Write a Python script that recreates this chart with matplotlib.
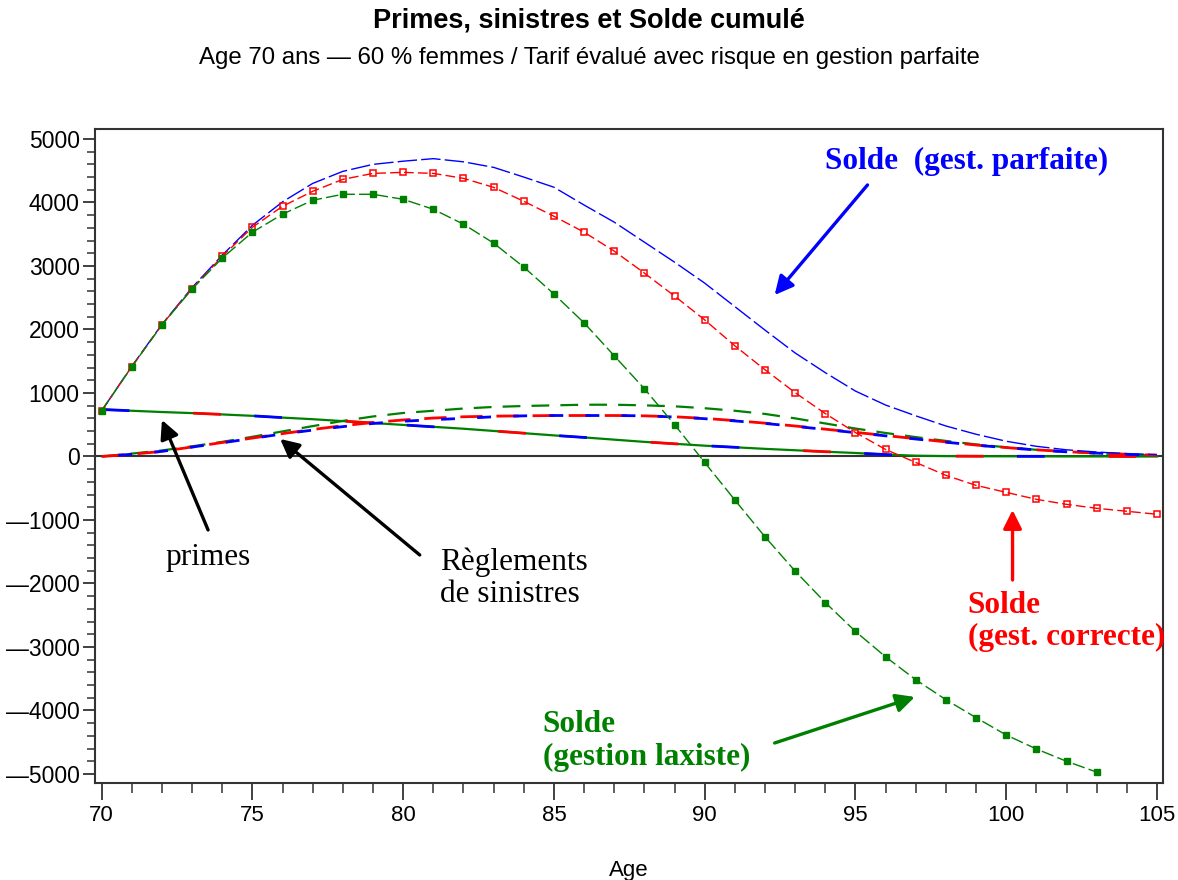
import numpy as np
import matplotlib
matplotlib.use("Agg")
import matplotlib.pyplot as plt
from matplotlib.ticker import MultipleLocator, FuncFormatter

plt.rcParams['font.family'] = ['Liberation Sans', 'DejaVu Sans']

ages = list(range(70, 106))

# solde cumulé, gestion parfaite (bleu)
solde_parfaite = [720, 1420, 2080, 2660, 3170, 3640, 4010, 4300, 4490, 4600,
                  4650, 4690, 4640, 4553, 4400, 4240, 3960, 3690, 3375, 3060,
                  2730, 2360, 1990, 1630, 1320, 1030, 810, 640, 480, 350,
                  240, 160, 105, 70, 45, 30]
# solde cumulé, gestion correcte (rouge)
solde_correcte = [720, 1415, 2075, 2645, 3150, 3610, 3940, 4176, 4364, 4458,
                  4474, 4458, 4380, 4238, 4019, 3783, 3532, 3234, 2888, 2527,
                  2151, 1743, 1366, 1005, 675, 377, 110, -94, -298, -455,
                  -565, -675, -754, -816, -863, -910]
# solde cumulé, gestion laxiste (vert) - jusqu'à 103 ans
ages_laxiste = list(range(70, 104))
solde_laxiste = [720, 1413, 2072, 2637, 3124, 3532, 3815, 4035, 4129, 4129,
                 4050, 3893, 3658, 3360, 2983, 2559, 2104, 1586, 1067, 502,
                 -94, -685, -1265, -1805, -2300, -2755, -3155, -3516, -3830, -4113,
                 -4386, -4606, -4800, -4970]

# primes
primes = [740, 720, 700, 683, 662, 640, 612, 587, 557, 527,
          497, 467, 437, 402, 367, 332, 300, 265, 230, 200,
          170, 145, 120, 98, 75, 55, 30, 12, 6, 4,
          3, 2, 1, 1, 0, 0]

# règlements de sinistres
sinistres_laxiste = [0, 45, 95, 160, 230, 310, 395, 478, 560, 630,
                     685, 720, 755, 780, 795, 805, 815, 815, 805, 790,
                     760, 720, 670, 600, 520, 440, 370, 305, 245, 190,
                     145, 105, 75, 50, 30, 15]
sinistres_correcte = [0, 35, 80, 150, 220, 290, 360, 425, 485, 535,
                      575, 605, 625, 635, 640, 645, 645, 645, 640, 625,
                      600, 565, 525, 480, 430, 380, 330, 280, 230, 180,
                      140, 105, 75, 55, 35, 20]
sinistres_parfaite = [0, 35, 80, 148, 215, 285, 355, 415, 470, 520,
                      555, 580, 600, 625, 640, 645, 645, 645, 640, 622,
                      595, 560, 520, 475, 425, 375, 325, 275, 225, 178,
                      138, 103, 73, 53, 33, 18]

blue = '#0000ff'
red = '#ff0000'
green = '#008000'

fig = plt.figure(figsize=(11.78, 8.8), dpi=100)
ax = fig.add_axes([95 / 1178, 1 - 783 / 880, (1163 - 95) / 1178, (783 - 129) / 880])

ax.axhline(0, color='#333333', lw=1.5, zorder=1)

# primes
ax.plot(ages, primes, color=green, lw=1.6, zorder=2)
ax.plot(ages, primes, color=blue, lw=2.0, ls=(0, (10, 45)), zorder=3)
ax.plot(ages, primes, color=red, lw=2.0, ls=(22, (10, 45)), zorder=3)

# sinistres
ax.plot(ages, sinistres_laxiste, color=green, lw=1.6, ls=(0, (8, 5)), zorder=2)
ax.plot(ages, sinistres_correcte, color=red, lw=2.0, ls=(0, (8, 5)), zorder=3)
ax.plot(ages, sinistres_parfaite, color=blue, lw=2.0, ls=(7, (5, 8)), zorder=3)

# soldes
ax.plot(ages, solde_parfaite, color=blue, lw=1.0, ls=(0, (14, 3)), zorder=4)
ax.plot(ages, solde_correcte, color=red, lw=1.0, ls=(0, (7, 3)),
        marker='s', ms=5, mfc='none', mec=red, mew=1.1, zorder=4)
ax.plot(ages_laxiste, solde_laxiste, color=green, lw=1.0, ls=(0, (9, 3)),
        marker='s', ms=5, mfc=green, mec=green, zorder=5)

ax.set_xlim(69.78, 105.2)
ax.set_ylim(-5142, 5157)

ax.xaxis.set_major_locator(MultipleLocator(5))
ax.xaxis.set_minor_locator(MultipleLocator(1))
ax.yaxis.set_major_locator(MultipleLocator(1000))
ax.yaxis.set_minor_locator(MultipleLocator(200))
ax.yaxis.set_major_formatter(FuncFormatter(
    lambda v, p: ('\u2014' + str(int(-v))) if v < 0 else str(int(v))))

ax.tick_params(axis='x', which='major', direction='out', length=12, width=1.3,
               labelsize=16, pad=4, color='#333333')
ax.tick_params(axis='x', which='minor', direction='out', length=7, width=1.1,
               color='#333333')
ax.tick_params(axis='y', which='major', direction='out', length=9, width=1.3,
               labelsize=16.5, pad=2, color='#333333')
ax.tick_params(axis='y', which='minor', direction='out', length=6, width=1.1,
               color='#333333')
for s in ax.spines.values():
    s.set_color('#333333')
    s.set_linewidth(1.5)

ax.set_xlabel('Age', fontsize=16, labelpad=24)

fig.text(0.5, 1 - 20 / 880, 'Primes, sinistres et Solde cumulé', ha='center',
         va='center', fontsize=19.5, fontweight='bold')
fig.text(0.5, 1 - 58 / 880,
         'Age 70 ans \u2014 60 % femmes / Tarif évalué avec risque en gestion parfaite',
         ha='center', va='center', fontsize=17.3)

serif = ['Liberation Serif', 'DejaVu Serif']
arrow = dict(arrowstyle='-|>', lw=2.4, mutation_scale=28, shrinkA=0, shrinkB=0)

ax.text(94.0, 4640, 'Solde  (gest. parfaite)', color=blue, family=serif,
        fontsize=22.5, fontweight='bold', ha='left', va='center')
ax.annotate('', xy=(92.32, 2543), xytext=(95.40, 4276),
            arrowprops=dict(arrow, color=blue))

ax.text(72.1, -1598, 'primes', color='black', family=serif, fontsize=22.5,
        ha='left', va='center')
ax.annotate('', xy=(72.0, 575), xytext=(73.53, -1157),
            arrowprops=dict(arrow, color='black'))

ax.text(81.22, -1921, 'Règlements\nde sinistres', color='black', family=serif,
        fontsize=22.5, ha='left', va='center', linespacing=1.15)
ax.annotate('', xy=(75.92, 276), xytext=(80.55, -1551),
            arrowprops=dict(arrow, color='black'))

ax.text(98.72, -2598, 'Solde\n(gest. correcte)', color=red, family=serif,
        fontsize=22.5, fontweight='bold', ha='left', va='center', linespacing=1.15)
ax.annotate('', xy=(100.21, -843), xytext=(100.21, -1945),
            arrowprops=dict(arrow, color=red))

ax.text(84.63, -4480, 'Solde\n(gestion laxiste)', color=green, family=serif,
        fontsize=22.5, fontweight='bold', ha='left', va='center', linespacing=1.15)
ax.annotate('', xy=(96.97, -3787), xytext=(92.32, -4512),
            arrowprops=dict(arrow, color=green))

fig.savefig('out.png', dpi=100)
